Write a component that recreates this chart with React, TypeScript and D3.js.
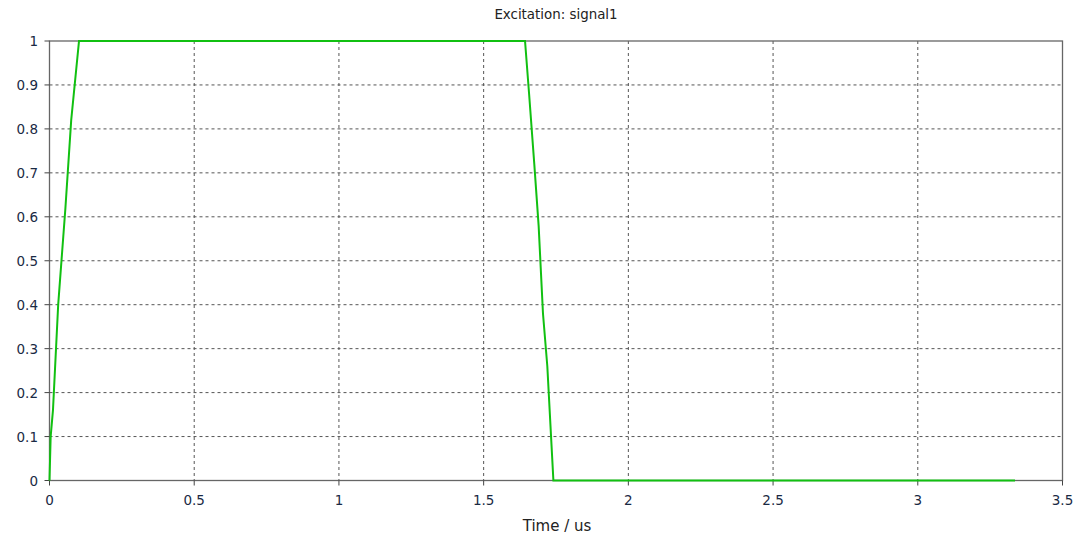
import React from "react";
import * as d3 from "d3";

const timeValues = [0, 0.004, 0.012, 0.03, 0.055, 0.075, 0.102, 0.5, 1.0, 1.5, 1.643, 1.657, 1.675, 1.69, 1.705, 1.72, 1.741, 2.0, 2.5, 3.0, 3.336];
const signalValues = [0, 0.1, 0.16, 0.4, 0.62, 0.82, 1, 1, 1, 1, 1, 0.88, 0.72, 0.58, 0.38, 0.26, 0, 0, 0, 0, 0];
const xTicks = [0, 0.5, 1, 1.5, 2, 2.5, 3, 3.5];
const yTicks = [0, 0.1, 0.2, 0.3, 0.4, 0.5, 0.6, 0.7, 0.8, 0.9, 1];

const W = 1080, H = 537;
const L = 49.5, R = 1062.5, T = 41, B = 480.5;

export default function App() {
  const x = d3.scaleLinear().domain([0, 3.5]).range([L, R]);
  const y = d3.scaleLinear().domain([0, 1]).range([B, T]);
  const pts = timeValues.map((t, i) => [t, signalValues[i]] as [number, number]);
  const line = d3.line<[number, number]>().x(d => x(d[0])).y(d => y(d[1]))(pts) || "";
  const font = "DejaVu Sans, Verdana, sans-serif";
  const fmt = (v: number) => String(+v.toFixed(2));
  return (
    <svg width={W} height={H} style={{ position: "absolute", left: 0, top: 0, background: "#fff" }} fontFamily={font}>
      <text x={556} y={19} textAnchor="middle" fontSize={13.4} fill="#222">Excitation: signal1</text>
      {xTicks.slice(1, -1).map(t => (
        <line key={"gx" + t} x1={x(t)} x2={x(t)} y1={T} y2={B} stroke="#555" strokeDasharray="3,3" strokeWidth={1} />
      ))}
      {yTicks.slice(1, -1).map(t => (
        <line key={"gy" + t} x1={L} x2={R} y1={y(t)} y2={y(t)} stroke="#555" strokeDasharray="3,3" strokeWidth={1} />
      ))}
      <rect x={L} y={T} width={R - L} height={B - T} fill="none" stroke="#666" strokeWidth={1.3} />
      {xTicks.map(t => (
        <g key={"xt" + t}>
          <line x1={x(t)} x2={x(t)} y1={B} y2={B + 5} stroke="#444" />
          <text x={x(t)} y={B + 24} textAnchor="middle" fontSize={13.5} fill="#1a2a44">{fmt(t)}</text>
        </g>
      ))}
      {yTicks.map(t => (
        <g key={"yt" + t}>
          <line x1={L - 5} x2={L} y1={y(t)} y2={y(t)} stroke="#444" />
          <text x={38} y={y(t) + 5} textAnchor="end" fontSize={13.5} fill="#1a2a44">{fmt(t)}</text>
        </g>
      ))}
      <path d={line} fill="none" stroke="#11c011" strokeWidth={2} />
      <text x={557} y={531} textAnchor="middle" fontSize={15} fill="#222">Time / us</text>
    </svg>
  );
}
